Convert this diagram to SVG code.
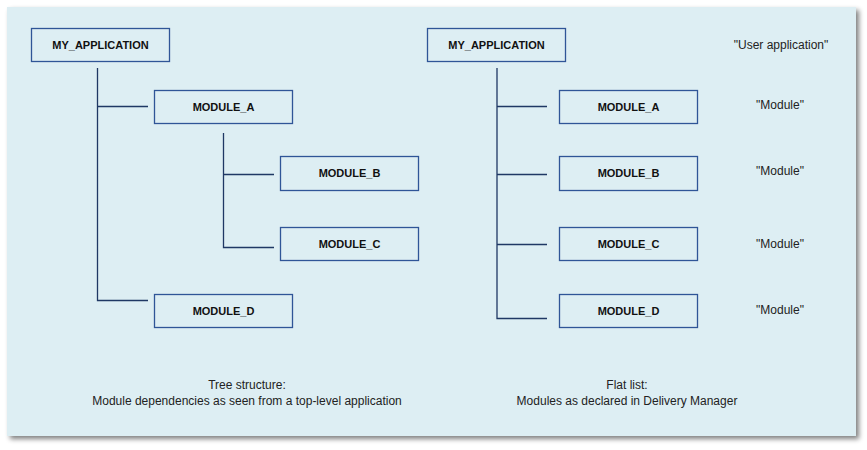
<svg xmlns="http://www.w3.org/2000/svg" width="867" height="450" viewBox="0 0 867 450">
<defs>
<filter id="sh" x="-5%" y="-5%" width="110%" height="110%">
<feGaussianBlur in="SourceAlpha" stdDeviation="2.5"/>
<feOffset dx="3" dy="3" result="b"/>
<feComponentTransfer><feFuncA type="linear" slope="0.5"/></feComponentTransfer>
<feMerge><feMergeNode/><feMergeNode in="SourceGraphic"/></feMerge>
</filter>
</defs>
<style>
.box{fill:none;stroke:#2F5597;stroke-width:1.3}
.lbl{font-family:"Liberation Sans",Arial,sans-serif;font-size:11px;font-weight:bold;fill:#111;text-anchor:middle}
.txt{font-family:"Liberation Sans",Arial,sans-serif;font-size:12px;fill:#222;text-anchor:middle}
.ln{stroke:#1F3864;stroke-width:1.3;fill:none}
</style>
<rect width="867" height="450" fill="#ffffff"/>
<rect x="7" y="7" width="849" height="429" fill="#DDEEF3" filter="url(#sh)"/>
<g id="connectors">
<path class="ln" d="M97.5 68V300.5H148M97.5 106.5H148M223.5 133V247.5H274M223.5 174.5H274"/>
<path class="ln" d="M497 68V318.5H547M497 106.5H547M497 174.5H547M497 244.5H547"/>
</g>
<g id="l-app"><rect class="box" x="31.5" y="28.5" width="138" height="33"/><text class="lbl" x="100.5" y="49">MY_APPLICATION</text></g>
<g id="l-a"><rect class="box" x="154.5" y="90.5" width="138" height="33"/><text class="lbl" x="223.5" y="111">MODULE_A</text></g>
<g id="l-b"><rect class="box" x="280.5" y="156.5" width="138" height="34"/><text class="lbl" x="349.5" y="177">MODULE_B</text></g>
<g id="l-c"><rect class="box" x="280.5" y="227.5" width="138" height="33"/><text class="lbl" x="349.5" y="248">MODULE_C</text></g>
<g id="l-d"><rect class="box" x="154.5" y="294.5" width="138" height="33"/><text class="lbl" x="223.5" y="315">MODULE_D</text></g>
<g id="r-app"><rect class="box" x="427.5" y="28.5" width="138" height="33"/><text class="lbl" x="496.5" y="49">MY_APPLICATION</text></g>
<g id="r-a"><rect class="box" x="559.5" y="90.5" width="138" height="33"/><text class="lbl" x="628.5" y="111">MODULE_A</text></g>
<g id="r-b"><rect class="box" x="559.5" y="156.5" width="138" height="34"/><text class="lbl" x="628.5" y="177">MODULE_B</text></g>
<g id="r-c"><rect class="box" x="559.5" y="227.5" width="138" height="33"/><text class="lbl" x="628.5" y="248">MODULE_C</text></g>
<g id="r-d"><rect class="box" x="559.5" y="294.5" width="138" height="33"/><text class="lbl" x="628.5" y="315">MODULE_D</text></g>
<g id="notes">
<text class="txt" x="781" y="49">"User application"</text>
<text class="txt" x="780" y="109">"Module"</text>
<text class="txt" x="780" y="175">"Module"</text>
<text class="txt" x="780" y="248">"Module"</text>
<text class="txt" x="780" y="314">"Module"</text>
<text class="txt" x="247" y="389">Tree structure:</text>
<text class="txt" x="247" y="405">Module dependencies as seen from a top-level application</text>
<text class="txt" x="627" y="389">Flat list:</text>
<text class="txt" x="627" y="405">Modules as declared in Delivery Manager</text>
</g>
</svg>
